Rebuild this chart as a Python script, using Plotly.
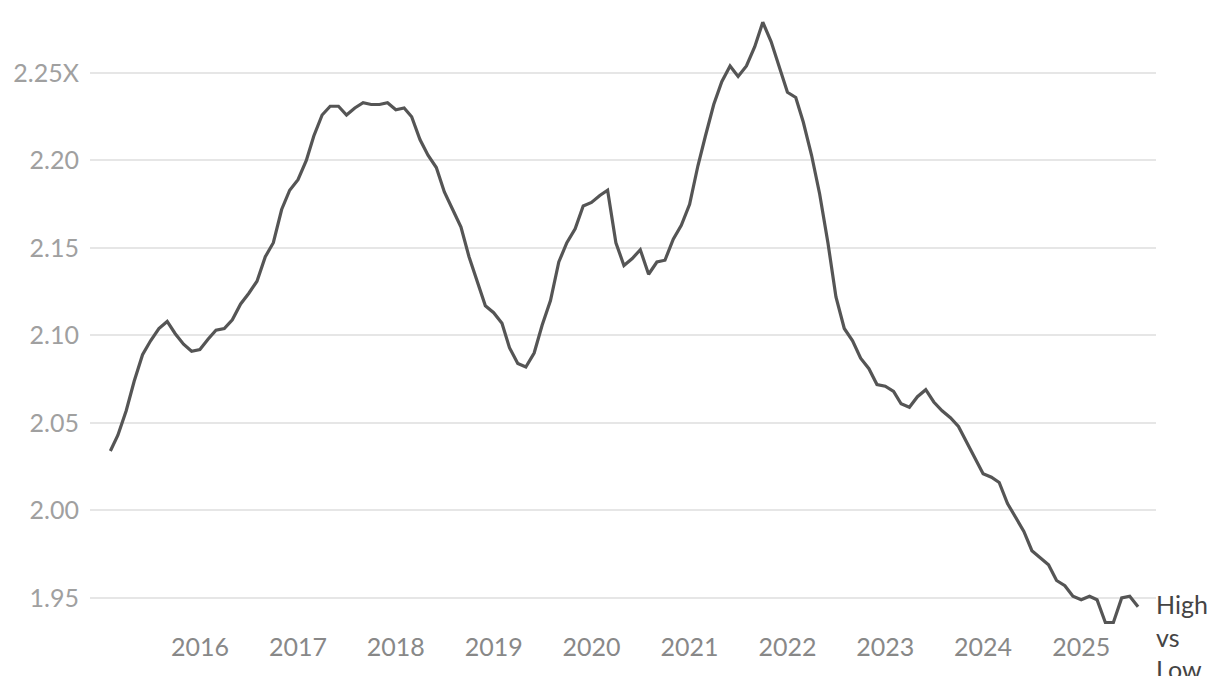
import plotly.graph_objects as go
import pandas as pd

# monthly ratio, Feb 2015 - Aug 2025
start_month = "2015-02-01"
ratio = [
    2.034, 2.043, 2.057, 2.074, 2.089, 2.097, 2.104, 2.108, 2.101, 2.095,
    2.091, 2.092, 2.098, 2.103, 2.104, 2.109, 2.118, 2.124, 2.131, 2.145,
    2.153, 2.172, 2.183, 2.189, 2.200, 2.214, 2.226, 2.231, 2.231, 2.226,
    2.230, 2.233, 2.232, 2.232, 2.233, 2.229, 2.230, 2.225, 2.212, 2.203,
    2.196, 2.182, 2.172, 2.162, 2.145, 2.130, 2.117, 2.113, 2.107, 2.093,
    2.084, 2.082, 2.090, 2.106, 2.120, 2.142, 2.153, 2.161, 2.174, 2.176,
    2.180, 2.183, 2.153, 2.140, 2.144, 2.149, 2.135, 2.142, 2.143, 2.155,
    2.163, 2.175, 2.197, 2.214, 2.232, 2.245, 2.254, 2.248, 2.254, 2.265,
    2.279, 2.268, 2.253, 2.239, 2.236, 2.222, 2.203, 2.181, 2.153, 2.122,
    2.104, 2.097, 2.087, 2.081, 2.072, 2.071, 2.068, 2.061, 2.059, 2.065,
    2.069, 2.062, 2.057, 2.053, 2.048, 2.039, 2.030, 2.021, 2.019, 2.016,
    2.004, 1.996, 1.988, 1.977, 1.973, 1.969, 1.960, 1.957, 1.951, 1.949,
    1.951, 1.949, 1.936, 1.936, 1.950, 1.951, 1.945,
]
dates = pd.date_range(start_month, periods=len(ratio), freq="MS")

y_ticks = [1.95, 2.00, 2.05, 2.10, 2.15, 2.20, 2.25]
y_tick_text = ["1.95", "2.00", "2.05", "2.10", "2.15", "2.20", "2.25X"]
x_ticks = [f"{y}-01-01" for y in range(2016, 2026)]
x_tick_text = [str(y) for y in range(2016, 2026)]
series_label = "High<br>vs<br>Low"

fig = go.Figure()
fig.add_trace(go.Scatter(
    x=dates, y=ratio, mode="lines",
    line=dict(color="#555555", width=3.2),
    hoverinfo="skip",
))

fig.add_annotation(
    x=1, xref="paper", xanchor="left",
    y=ratio[-1], yref="y", yanchor="top", yshift=20, xshift=-2,
    text=series_label, showarrow=False, align="left",
    font=dict(family="Lato", size=25, color="#444444"),
)

fig.update_layout(
    width=1220, height=676,
    margin=dict(l=82, r=72, t=2, b=54),
    paper_bgcolor="white", plot_bgcolor="white",
    showlegend=False,
    font=dict(family="Lato"),
    xaxis=dict(
        range=["2014-11-17", "2025-10-07"],
        tickvals=x_ticks, ticktext=x_tick_text,
        showgrid=False, zeroline=False, showline=False, ticks="",
        tickfont=dict(family="Lato", size=25, color="#888888"),
    ),
    yaxis=dict(
        range=[1.9317, 2.286],
        tickvals=y_ticks, ticktext=y_tick_text,
        showgrid=True, gridcolor="#e6e6e6", gridwidth=1.5,
        zeroline=False, showline=False, ticks="",
        ticklabelstandoff=10,
        tickfont=dict(family="Lato", size=25, color="#a0a0a0"),
    ),
)

fig.write_html("out.html")
